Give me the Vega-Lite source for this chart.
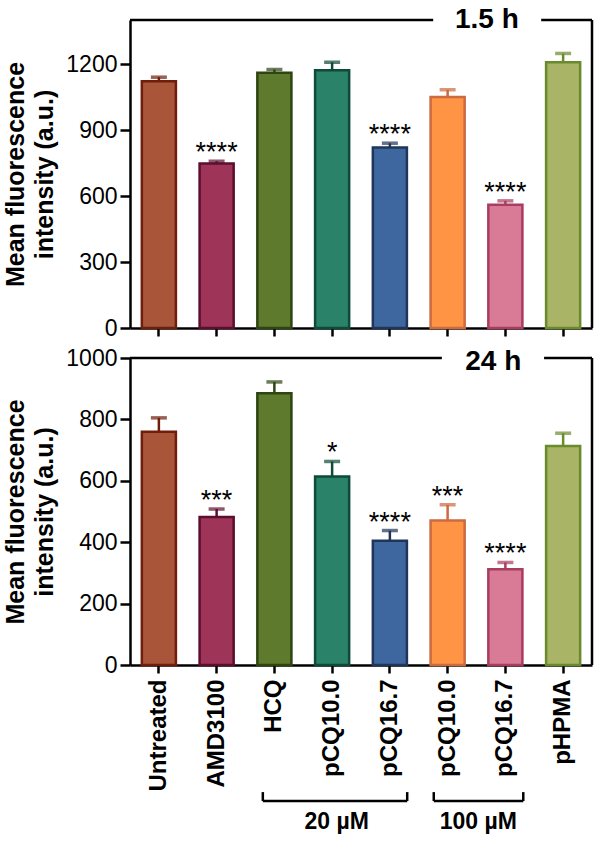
{
  "$schema": "https://vega.github.io/schema/vega-lite/v6.json",
  "padding": {"left": 3, "top": 6, "right": 0, "bottom": 0},
  "background": "white",
  "spacing": 7,
  "config": {
    "view": {"stroke": null},
    "font": "Liberation Sans",
    "axis": {
      "grid": false,
      "domainColor": "black",
      "domainWidth": 2.5,
      "tickColor": "black",
      "tickWidth": 2.5,
      "labelColor": "black",
      "labelFont": "Liberation Sans",
      "titleFont": "Liberation Sans",
      "titleColor": "black"
    }
  },
  "datasets": {
    "h15": [
      {"id": "Untreated", "v": 1122, "hi": 1140, "sig": ""},
      {"id": "AMD3100", "v": 748, "hi": 758, "sig": "****"},
      {"id": "HCQ", "v": 1160, "hi": 1175, "sig": ""},
      {"id": "pCQ10.0 | 20", "v": 1172, "hi": 1208, "sig": ""},
      {"id": "pCQ16.7 | 20", "v": 820, "hi": 840, "sig": "****"},
      {"id": "pCQ10.0 | 100", "v": 1050, "hi": 1083, "sig": ""},
      {"id": "pCQ16.7 | 100", "v": 560, "hi": 578, "sig": "****"},
      {"id": "pHPMA", "v": 1208, "hi": 1248, "sig": ""}
    ],
    "h24": [
      {"id": "Untreated", "v": 760, "hi": 805, "sig": ""},
      {"id": "AMD3100", "v": 482, "hi": 508, "sig": "***"},
      {"id": "HCQ", "v": 885, "hi": 922, "sig": ""},
      {"id": "pCQ10.0 | 20", "v": 614, "hi": 663, "sig": "*"},
      {"id": "pCQ16.7 | 20", "v": 405, "hi": 438, "sig": "****"},
      {"id": "pCQ10.0 | 100", "v": 471, "hi": 522, "sig": "***"},
      {"id": "pCQ16.7 | 100", "v": 312, "hi": 334, "sig": "****"},
      {"id": "pHPMA", "v": 713, "hi": 755, "sig": ""}
    ],
    "one": [{"k": 1}]
  },
  "vconcat": [
    {
      "width": 462,
      "height": 308,
      "layer": [
        {
          "data": {"name": "h15"},
          "encoding": {
            "x": {
              "field": "id", "type": "nominal", "sort": null,
              "scale": {"domain": ["Untreated", "AMD3100", "HCQ", "pCQ10.0 | 20", "pCQ16.7 | 20", "pCQ10.0 | 100", "pCQ16.7 | 100", "pHPMA"], "paddingInner": 0.41, "paddingOuter": 0.205},
              "axis": {"labels": false, "title": null, "tickSize": 8}
            }
          },
          "layer": [
            {
              "mark": {"type": "bar", "strokeWidth": 2.5},
              "encoding": {
                "y": {
                  "field": "v", "type": "quantitative",
                  "scale": {"domain": [0, 1400], "nice": false},
                  "title": ["Mean fluorescence", "intensity (a.u.)"],
                  "axis": {"values": [0, 300, 600, 900, 1200], "format": "d", "tickSize": 10, "labelFontSize": 23, "labelPadding": 3, "titleFontSize": 25, "titleFontWeight": "bold", "titleLineHeight": 29, "titlePadding": 8}
                },
                "fill": {"field": "id", "type": "nominal", "legend": null,
                  "scale": {"domain": ["Untreated", "AMD3100", "HCQ", "pCQ10.0 | 20", "pCQ16.7 | 20", "pCQ10.0 | 100", "pCQ16.7 | 100", "pHPMA"], "range": ["#A8553A", "#9E3559", "#5E7A2C", "#2A8268", "#3E67A0", "#FF9445", "#D97A97", "#A9B466"]}},
                "stroke": {"field": "id", "type": "nominal", "legend": null,
                  "scale": {"domain": ["Untreated", "AMD3100", "HCQ", "pCQ10.0 | 20", "pCQ16.7 | 20", "pCQ10.0 | 100", "pCQ16.7 | 100", "pHPMA"], "range": ["#6E1E0A", "#5C0F2D", "#2E4512", "#0E4A38", "#1F3658", "#CC6A40", "#A83D60", "#6B8A2E"]}}
              }
            },
            {
              "mark": {"type": "rule", "strokeWidth": 2.5},
              "encoding": {
                "y": {"field": "v", "type": "quantitative"},
                "y2": {"field": "hi"},
                "stroke": {"field": "id", "type": "nominal", "legend": null}
              }
            },
            {
              "mark": {"type": "tick", "thickness": 3.5, "size": 16},
              "encoding": {
                "y": {"field": "hi", "type": "quantitative"},
                "color": {"field": "id", "type": "nominal", "legend": null,
                  "scale": {"domain": ["Untreated", "AMD3100", "HCQ", "pCQ10.0 | 20", "pCQ16.7 | 20", "pCQ10.0 | 100", "pCQ16.7 | 100", "pHPMA"], "range": ["#6E1E0A", "#5C0F2D", "#2E4512", "#0E4A38", "#1F3658", "#CC6A40", "#A83D60", "#6B8A2E"]}}
              }
            },
            {
              "mark": {"type": "text", "fontSize": 27, "baseline": "alphabetic", "dy": 0, "color": "black"},
              "encoding": {
                "y": {"field": "hi", "type": "quantitative"},
                "text": {"field": "sig"}
              }
            }
          ]
        },
        {
          "data": {"name": "one"},
          "layer": [
            {
              "mark": {"type": "rule", "strokeWidth": 2.5, "color": "black"},
              "encoding": {
                "x": {"datum": 0, "type": "quantitative", "scale": {"domain": [0, 8], "nice": false, "zero": false}, "axis": null},
                "x2": {"datum": 5.25},
                "y": {"datum": 1400, "type": "quantitative"}
              }
            },
            {
              "mark": {"type": "rule", "strokeWidth": 2.5, "color": "black"},
              "encoding": {
                "x": {"datum": 7.12, "type": "quantitative"},
                "x2": {"datum": 8},
                "y": {"datum": 1400, "type": "quantitative"}
              }
            },
            {
              "mark": {"type": "rule", "strokeWidth": 2.5, "color": "black"},
              "encoding": {
                "x": {"datum": 8, "type": "quantitative"},
                "y": {"datum": 0, "type": "quantitative"},
                "y2": {"datum": 1400}
              }
            },
            {
              "mark": {"type": "text", "fontSize": 28, "fontWeight": "bold", "baseline": "middle", "color": "black", "text": "1.5 h"},
              "encoding": {
                "x": {"datum": 6.18, "type": "quantitative"},
                "y": {"datum": 1400, "type": "quantitative"}
              }
            }
          ]
        }
      ],
      "resolve": {"scale": {"x": "independent"}}
    },
    {
      "width": 462,
      "height": 307,
      "layer": [
        {
          "data": {"name": "h24"},
          "encoding": {
            "x": {
              "field": "id", "type": "nominal", "sort": null,
              "scale": {"domain": ["Untreated", "AMD3100", "HCQ", "pCQ10.0 | 20", "pCQ16.7 | 20", "pCQ10.0 | 100", "pCQ16.7 | 100", "pHPMA"], "paddingInner": 0.41, "paddingOuter": 0.205},
              "axis": {"title": null, "tickSize": 8, "labelAngle": -90, "labelFontSize": 24, "labelFontWeight": "bold", "labelPadding": 6, "labelExpr": "split(datum.label, ' | ')[0]"}
            }
          },
          "layer": [
            {
              "mark": {"type": "bar", "strokeWidth": 2.5},
              "encoding": {
                "y": {
                  "field": "v", "type": "quantitative",
                  "scale": {"domain": [0, 1000], "nice": false},
                  "title": ["Mean fluorescence", "intensity (a.u.)"],
                  "axis": {"values": [0, 200, 400, 600, 800, 1000], "format": "d", "tickSize": 10, "labelFontSize": 23, "labelPadding": 3, "titleFontSize": 25, "titleFontWeight": "bold", "titleLineHeight": 29, "titlePadding": 8}
                },
                "fill": {"field": "id", "type": "nominal", "legend": null,
                  "scale": {"domain": ["Untreated", "AMD3100", "HCQ", "pCQ10.0 | 20", "pCQ16.7 | 20", "pCQ10.0 | 100", "pCQ16.7 | 100", "pHPMA"], "range": ["#A8553A", "#9E3559", "#5E7A2C", "#2A8268", "#3E67A0", "#FF9445", "#D97A97", "#A9B466"]}},
                "stroke": {"field": "id", "type": "nominal", "legend": null,
                  "scale": {"domain": ["Untreated", "AMD3100", "HCQ", "pCQ10.0 | 20", "pCQ16.7 | 20", "pCQ10.0 | 100", "pCQ16.7 | 100", "pHPMA"], "range": ["#6E1E0A", "#5C0F2D", "#2E4512", "#0E4A38", "#1F3658", "#CC6A40", "#A83D60", "#6B8A2E"]}}
              }
            },
            {
              "mark": {"type": "rule", "strokeWidth": 2.5},
              "encoding": {
                "y": {"field": "v", "type": "quantitative"},
                "y2": {"field": "hi"},
                "stroke": {"field": "id", "type": "nominal", "legend": null}
              }
            },
            {
              "mark": {"type": "tick", "thickness": 3.5, "size": 16},
              "encoding": {
                "y": {"field": "hi", "type": "quantitative"},
                "color": {"field": "id", "type": "nominal", "legend": null,
                  "scale": {"domain": ["Untreated", "AMD3100", "HCQ", "pCQ10.0 | 20", "pCQ16.7 | 20", "pCQ10.0 | 100", "pCQ16.7 | 100", "pHPMA"], "range": ["#6E1E0A", "#5C0F2D", "#2E4512", "#0E4A38", "#1F3658", "#CC6A40", "#A83D60", "#6B8A2E"]}}
              }
            },
            {
              "mark": {"type": "text", "fontSize": 27, "baseline": "alphabetic", "dy": 0, "color": "black"},
              "encoding": {
                "y": {"field": "hi", "type": "quantitative"},
                "text": {"field": "sig"}
              }
            }
          ]
        },
        {
          "data": {"name": "one"},
          "layer": [
            {
              "mark": {"type": "rule", "strokeWidth": 2.5, "color": "black"},
              "encoding": {
                "x": {"datum": 0, "type": "quantitative", "scale": {"domain": [0, 8], "nice": false, "zero": false}, "axis": null},
                "x2": {"datum": 5.4},
                "y": {"datum": 1000, "type": "quantitative"}
              }
            },
            {
              "mark": {"type": "rule", "strokeWidth": 2.5, "color": "black"},
              "encoding": {
                "x": {"datum": 7.17, "type": "quantitative"},
                "x2": {"datum": 8},
                "y": {"datum": 1000, "type": "quantitative"}
              }
            },
            {
              "mark": {"type": "rule", "strokeWidth": 2.5, "color": "black"},
              "encoding": {
                "x": {"datum": 8, "type": "quantitative"},
                "y": {"datum": 0, "type": "quantitative"},
                "y2": {"datum": 1000}
              }
            },
            {
              "mark": {"type": "text", "fontSize": 28, "fontWeight": "bold", "baseline": "middle", "dy": 4, "color": "black", "text": "24 h"},
              "encoding": {
                "x": {"datum": 6.29, "type": "quantitative"},
                "y": {"datum": 1000, "type": "quantitative"}
              }
            },
            {
              "mark": {"type": "rule", "strokeWidth": 2.5, "color": "black"},
              "encoding": {
                "x": {"datum": 2.3, "type": "quantitative"},
                "x2": {"datum": 4.8},
                "y": {"datum": -443, "type": "quantitative"}
              }
            },
            {
              "mark": {"type": "rule", "strokeWidth": 2.5, "color": "black"},
              "encoding": {
                "x": {"datum": 2.3, "type": "quantitative"},
                "y": {"datum": -414, "type": "quantitative"},
                "y2": {"datum": -443}
              }
            },
            {
              "mark": {"type": "rule", "strokeWidth": 2.5, "color": "black"},
              "encoding": {
                "x": {"datum": 4.8, "type": "quantitative"},
                "y": {"datum": -414, "type": "quantitative"},
                "y2": {"datum": -443}
              }
            },
            {
              "mark": {"type": "rule", "strokeWidth": 2.5, "color": "black"},
              "encoding": {
                "x": {"datum": 5.26, "type": "quantitative"},
                "x2": {"datum": 6.81},
                "y": {"datum": -443, "type": "quantitative"}
              }
            },
            {
              "mark": {"type": "rule", "strokeWidth": 2.5, "color": "black"},
              "encoding": {
                "x": {"datum": 5.26, "type": "quantitative"},
                "y": {"datum": -414, "type": "quantitative"},
                "y2": {"datum": -443}
              }
            },
            {
              "mark": {"type": "rule", "strokeWidth": 2.5, "color": "black"},
              "encoding": {
                "x": {"datum": 6.81, "type": "quantitative"},
                "y": {"datum": -414, "type": "quantitative"},
                "y2": {"datum": -443}
              }
            },
            {
              "mark": {"type": "text", "fontSize": 23, "fontWeight": "bold", "baseline": "middle", "color": "black", "text": "20 µM"},
              "encoding": {
                "x": {"datum": 3.58, "type": "quantitative"},
                "y": {"datum": -511, "type": "quantitative"}
              }
            },
            {
              "mark": {"type": "text", "fontSize": 23, "fontWeight": "bold", "baseline": "middle", "color": "black", "text": "100 µM"},
              "encoding": {
                "x": {"datum": 6.03, "type": "quantitative"},
                "y": {"datum": -511, "type": "quantitative"}
              }
            }
          ]
        }
      ],
      "resolve": {"scale": {"x": "independent"}}
    }
  ]
}
